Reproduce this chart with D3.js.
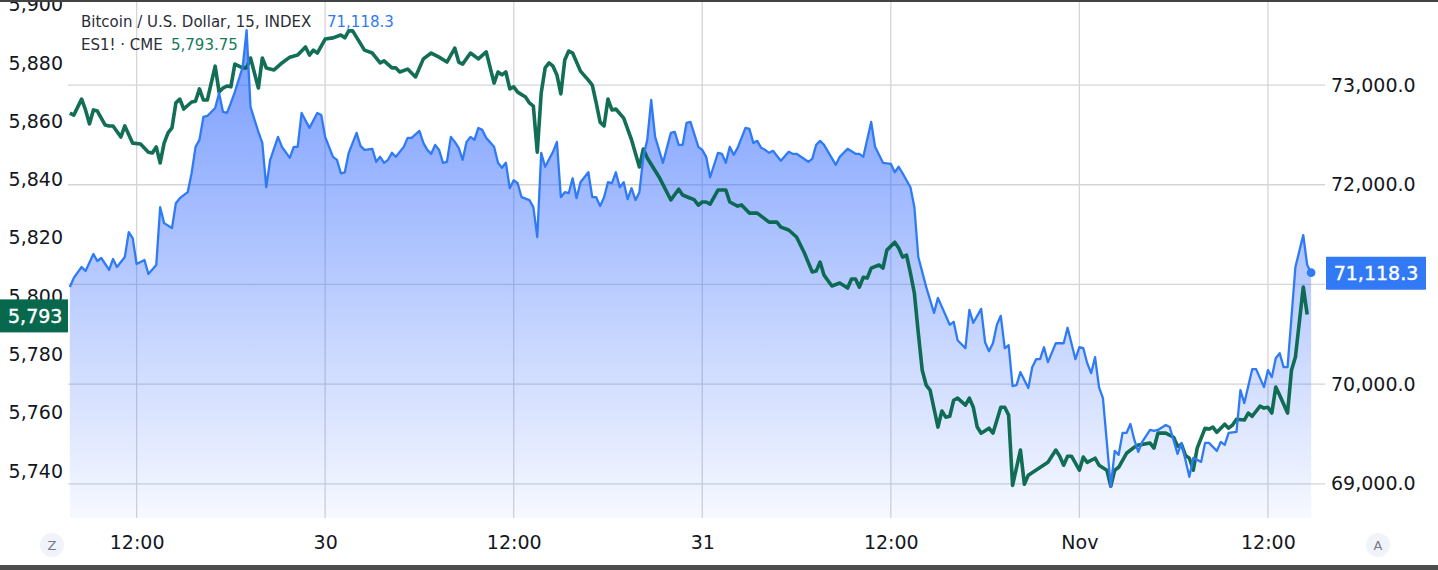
<!DOCTYPE html>
<html><head><meta charset="utf-8">
<script src="https://cdn.jsdelivr.net/npm/d3@7"></script>
<style>html,body{margin:0;padding:0;background:#fff;overflow:hidden}</style>
</head><body><svg id="c" width="1438" height="570"></svg>
<script>
// Bars are 15-minute intervals counted from 2024-10-29 07:45 (UTC chart time)
const btcBars = [
0,1,3,4,6,7,8,10,11,12, 14,15,16,17,19,20,22,23,24,26, 27,28,30,31,32,33,34,35,37,38,
39,40,41,42,44,45,46,48,49,50, 51,53,54,56,57,58,59,61,63,64, 65,67,68,69,70,71,73,74,75,77,
78,79,80,81,82,83,85,86,87,89, 90,91,92,93,94,95,96,97,98,99, 100,101,102,103,104,105,106,108,109,110,
111,112,113,114,115,117,118,119,120,121, 123,124,125,126,127,128,129,130,132,133, 134,135,136,137,138,139,140,141,142,143,
144,145,146,147,148,149,151,153,154,155, 156,157,158,160,161,162,163,165,166,167, 168,169,170,172,173,174,175,176,177,178,
179,181,183,184,185,188,189,190,191,192, 195,196,198,200,201,202,204,205,206,207, 209,210,211,212,214,215,216,218,220,221,
224,225,226,228,229,230,232,233,234,235, 236,237,238,239,240,241,242,244,245,246, 247,248,249,251,253,254,256,257,258,259,
260,261,262,263,265,266,267,268,269,270, 271,272,273,275,276,277,279,280,282,283, 285,286,288,289,290,292,293,294,295,297,
298,299,301,302,304,305,306,307,308,309, 310,312,314,315,316];
const btcValues = [
70975,71065,71175,71135,71305,71235,71265,71145,71255,71175, 71275,71525,71465,71205,71245,71105,71195,71775,71615,71565,
71815,71865,71925,72115,72380,72450,72680,72690,72770,72920, 72730,72720,72820,72930,73180,73550,72780,72530,72420,71975,
72250,72480,72380,72270,72380,72380,72720,72570,72720,72700, 72480,72280,72250,72115,72125,72320,72520,72390,72350,72360,
72230,72280,72220,72250,72320,72280,72380,72470,72470,72540, 72420,72350,72310,72400,72350,72220,72230,72480,72430,72370,
72250,72430,72480,72450,72570,72550,72470,72380,72220,72170, 72220,71965,72045,72015,71875,71845,71775,71475,72320,72180,
72330,72430,71875,71925,71915,72065,71865,72025,72125,71875, 71875,71785,71875,72025,72015,72125,71975,72025,71855,71965,
71845,71925,72280,72450,72850,72480,72220,72520,72530,72400, 72400,72620,72630,72380,72350,72280,72075,72320,72310,72220,
72380,72300,72370,72570,72560,72420,72440,72370,72350,72320, 72340,72240,72330,72310,72310,72230,72260,72400,72440,72400,
72200,72280,72360,72310,72310,72280,72630,72380,72300,72220, 72210,72125,72180,72115,71975,71775,71275,70975,70715,70865,
70595,70625,70440,70360,70745,70615,70755,70420,70330,70410, 70595,70685,70360,70390,69980,69990,70120,69960,70170,70250,
70250,70370,70220,70410,70410,70565,70250,70370,70360,70210, 70110,70270,69970,69860,68970,69330,69290,69510,69510,69600,
69440,69320,69420,69540,69530,69540,69590,69570,69300,69410, 69070,69260,69220,69410,69410,69330,69420,69390,69510,69520,
69940,69810,70150,70150,69970,70140,70070,70260,70310,70170, 70170,71175,71495,71195,71118.3];

const esBars = [
0,1,3,4,5,6,7,9,10,11, 13,14,16,18,20,21,22,23,24,25, 26,27,28,29,31,32,33,34,35,37,
38,39,40,41,42,44,45,46,48,49, 50,52,54,56,58,60,61,62,63,65, 67,69,70,71,72,75,77,79,80,82,
83,84,86,88,90,92,94,96,98,99, 100,102,104,106,108,109,110,111,112,113, 114,116,117,118,119,120,121,122,123,124,
125,126,127,128,130,132,133,134,135,136, 137,138,139,141,143,145,146,147,150,153, 155,156,158,159,160,161,162,163,165,167,
168,170,171,173,175,178,180,181,183,185, 187,189,190,191,192,194,196,198,199,200, 201,202,203,204,206,207,208,210,211,212,
213,214,215,216,217,218,219,221,222,223, 224,225,226,228,229,230,231,232,234,235, 237,238,239,240,242,243,244,249,251,252,
253,254,255,257,258,259,261,262,264,265, 266,267,269,271,272,275,276,277,279,281, 282,283,284,285,286,287,289,290,291,292,
294,295,296,297,299,300,301,303,304,305, 306,307,308,310,311,312,314,315];
const esValues = [
5862.8,5862.1,5867.6,5863.9,5859.1,5863.9,5863.5,5858.7,5858.4,5858.4, 5854.6,5858.4,5852.5,5852.2,5849.4,5849.1,5851.2,5845.7,5852.5,5856.0,
5857.7,5866.3,5867.6,5864.2,5866.6,5866.9,5871.1,5867.3,5867.3,5878.9, 5870.0,5871.4,5872.1,5871.8,5879.6,5878.3,5878.3,5881.7,5871.4,5881.7,
5878.3,5877.6,5880.0,5882.0,5882.7,5885.5,5882.7,5884.4,5883.4,5888.2, 5888.6,5889.6,5888.6,5891.0,5891.0,5884.4,5883.4,5880.0,5880.7,5878.3,
5878.3,5876.9,5877.9,5875.2,5881.4,5883.4,5882.0,5880.3,5885.1,5880.3, 5879.6,5883.4,5881.4,5883.8,5873.1,5876.9,5875.9,5876.9,5871.1,5871.8,
5870.0,5868.3,5866.3,5865.2,5849.4,5869.7,5878.3,5880.0,5878.9,5875.9, 5869.4,5881.0,5884.1,5883.4,5877.2,5874.1,5872.4,5866.3,5859.7,5858.4,
5867.6,5863.9,5864.2,5861.1,5853.6,5844.3,5850.5,5847.4,5840.9,5833.0, 5836.7,5834.7,5833.6,5833.0,5831.2,5832.3,5832.3,5831.6,5836.4,5836.4,
5832.3,5830.9,5831.3,5828.5,5828.5,5825.4,5825.4,5823.7,5822.7,5820.3, 5814.8,5808.3,5808.6,5811.7,5807.2,5803.5,5804.5,5802.8,5805.9,5805.9,
5803.1,5806.5,5806.2,5809.6,5810.7,5809.6,5815.8,5818.5,5816.5,5813.4, 5814.1,5807.9,5801.0,5787.3,5774.6,5769.5,5767.8,5755.1,5760.6,5758.5,
5758.8,5764.3,5765.0,5762.6,5765.0,5761.9,5755.1,5753.0,5754.7,5753.0, 5761.9,5761.9,5759.2,5735.1,5747.2,5735.5,5738.6,5743.0,5747.2,5745.1,
5742.0,5745.1,5745.1,5740.3,5744.8,5743.0,5744.4,5742.0,5740.3,5734.8, 5740.3,5741.3,5746.1,5748.2,5748.9,5749.6,5747.9,5753.0,5753.0,5751.6,
5748.5,5749.2,5745.4,5744.4,5740.3,5747.9,5754.7,5754.4,5755.1,5753.3, 5756.1,5754.7,5755.8,5757.8,5757.5,5759.9,5758.8,5762.3,5761.6,5761.9,
5759.9,5768.8,5766.0,5759.9,5774.6,5779.1,5803.1,5793.75];

const xTickLabels = ["12:00","30","12:00","31","12:00","Nov","12:00"];
const xTickHours = [12,24,36,48,60,72,84]; // hours after 2024-10-29 00:00
const leftTicks = [5740,5760,5780,5800,5820,5840,5860,5880,5900];
const rightTicks = [69000,70000,71000,72000,73000];
const btcLast = 71118.3, esLast = 5793.75;
const btcTitle = "Bitcoin / U.S. Dollar, 15, INDEX", esTitle = "ES1! \u00B7 CME";

const FONT = "DejaVu Sans";
const BLUE = "#2f7bf5", GREEN = "#006347", TEXT = "#131722";
const L = 68, R = 1325, T = 0, B = 518;

const t0 = Date.UTC(2024, 9, 29, 7, 45);
const barTime = b => new Date(t0 + b * 15 * 60000);
const day0 = Date.UTC(2024, 9, 29, 0, 0);

const x = d3.scaleUtc()
  .domain([new Date(Date.UTC(2024, 9, 29, 7, 38)), new Date(Date.UTC(2024, 10, 1, 15, 38))])
  .range([L, R]);
const yBtc = d3.scaleLinear().domain([68657, 73853]).range([B, T]);
const yEs = d3.scaleLinear().domain([5723.9, 5901.6]).range([B, T]);

const btc = btcBars.map((b, i) => ({t: barTime(b), v: btcValues[i]}));
const es = esBars.map((b, i) => ({t: barTime(b), v: esValues[i]}));

const svg = d3.select("#c");
svg.append("rect").attr("width", 1438).attr("height", 570).attr("fill", "#fff");

const defs = svg.append("defs");
const grad = defs.append("linearGradient").attr("id", "g")
  .attr("gradientUnits", "userSpaceOnUse").attr("x1", 0).attr("x2", 0).attr("y1", 30).attr("y2", B);
grad.append("stop").attr("offset", 0).attr("stop-color", "#2962ff").attr("stop-opacity", 0.64);
grad.append("stop").attr("offset", 1).attr("stop-color", "#2962ff").attr("stop-opacity", 0.04);

// grid
const tickDates = xTickHours.map(h => new Date(day0 + h * 3600000));
const grid = svg.append("g");
grid.selectAll("line.v").data(tickDates).join("line")
  .attr("x1", d => x(d)).attr("x2", d => x(d)).attr("y1", T).attr("y2", B)
  .attr("stroke", "#d3d5da").attr("stroke-width", 1.3);
grid.selectAll("line.h").data(rightTicks).join("line")
  .attr("x1", L).attr("x2", R).attr("y1", d => yBtc(d)).attr("y2", d => yBtc(d))
  .attr("stroke", "#d3d5da").attr("stroke-width", 1.3);

// BTC area
svg.append("path").datum(btc)
  .attr("d", d3.area().x(d => x(d.t)).y0(B).y1(d => yBtc(d.v)))
  .attr("fill", "url(#g)");

// ES line
svg.append("path").datum(es)
  .attr("d", d3.line().x(d => x(d.t)).y(d => yEs(d.v)))
  .attr("fill", "none").attr("stroke", GREEN).attr("stroke-width", 3.6)
  .attr("stroke-linejoin", "round").attr("opacity", 0.93);

// BTC line
svg.append("path").datum(btc)
  .attr("d", d3.line().x(d => x(d.t)).y(d => yBtc(d.v)))
  .attr("fill", "none").attr("stroke", BLUE).attr("stroke-width", 2.3)
  .attr("stroke-linejoin", "round");

const lastB = btc[btc.length - 1];
svg.append("circle").attr("cx", x(lastB.t)).attr("cy", yBtc(lastB.v)).attr("r", 4.3).attr("fill", BLUE);

// axes
function styleAxis(g) {
  g.select(".domain").remove();
  g.selectAll("text").attr("font-family", FONT).attr("font-size", 19).attr("fill", TEXT);
}
const fmt0 = d3.format(",");
svg.append("g").attr("transform", `translate(66,0)`)
  .call(d3.axisLeft(yEs).tickValues(leftTicks).tickSize(0).tickPadding(3).tickFormat(d => fmt0(d)))
  .call(styleAxis);
// the right-axis label hidden behind the last-price box is skipped, as on the reference
const rightShown = rightTicks.filter(v => Math.abs(yBtc(v) - yBtc(btcLast)) > 22);
svg.append("g").attr("transform", `translate(${R},0)`)
  .call(d3.axisRight(yBtc).tickValues(rightShown).tickSize(0).tickPadding(6).tickFormat(d => d3.format(",.1f")(d)))
  .call(styleAxis);
svg.append("g").attr("transform", `translate(0,${B})`)
  .call(d3.axisBottom(x).tickValues(tickDates).tickSize(0).tickPadding(18).tickFormat((d, i) => xTickLabels[i]))
  .call(styleAxis);

// price labels
const yb = yBtc(btcLast);
svg.append("rect").attr("x", 1326).attr("y", yb - 16).attr("width", 100).attr("height", 33).attr("rx", 1).attr("fill", "#3179f5");
svg.append("text").attr("x", 1376).attr("y", yb + 7).attr("text-anchor", "middle")
  .attr("font-family", FONT).attr("font-size", 19).attr("fill", "#fff").attr("stroke", "#fff").attr("stroke-width", 0.4)
  .text(d3.format(",.1f")(btcLast));
const ye = yEs(esLast);
svg.append("rect").attr("x", 0).attr("y", ye - 15).attr("width", 68).attr("height", 33).attr("fill", "#07684d");
svg.append("text").attr("x", 8).attr("y", ye + 8.5)
  .attr("font-family", FONT).attr("font-size", 19).attr("fill", "#fff").attr("stroke", "#fff").attr("stroke-width", 0.4)
  .text(fmt0(Math.floor(esLast)));

// legend
const lg = svg.append("g").attr("font-family", FONT).attr("font-size", 15);
lg.append("text").attr("x", 81).attr("y", 27).attr("fill", "#2a2e39").text(btcTitle);
lg.append("text").attr("x", 327).attr("y", 27).attr("fill", BLUE).text(d3.format(",.1f")(btcLast));
lg.append("text").attr("x", 81).attr("y", 50).attr("fill", "#2a2e39").text(esTitle);
lg.append("text").attr("x", 171).attr("y", 50).attr("fill", "#137a5c").text(d3.format(",.2f")(esLast));

// Z / A buttons
[[52, "Z"], [1378, "A"]].forEach(([cx, s]) => {
  svg.append("circle").attr("cx", cx).attr("cy", 545).attr("r", 12).attr("fill", "#f0f3fa");
  svg.append("text").attr("x", cx).attr("y", 550).attr("text-anchor", "middle")
    .attr("font-family", FONT).attr("font-size", 13).attr("fill", "#787b86").text(s);
});

// frame bars
svg.append("rect").attr("x", 0).attr("y", 0).attr("width", 1438).attr("height", 2).attr("fill", "#434343");
svg.append("rect").attr("x", 0).attr("y", 565).attr("width", 1438).attr("height", 5).attr("fill", "#4d4d4d");
</script></body></html>
